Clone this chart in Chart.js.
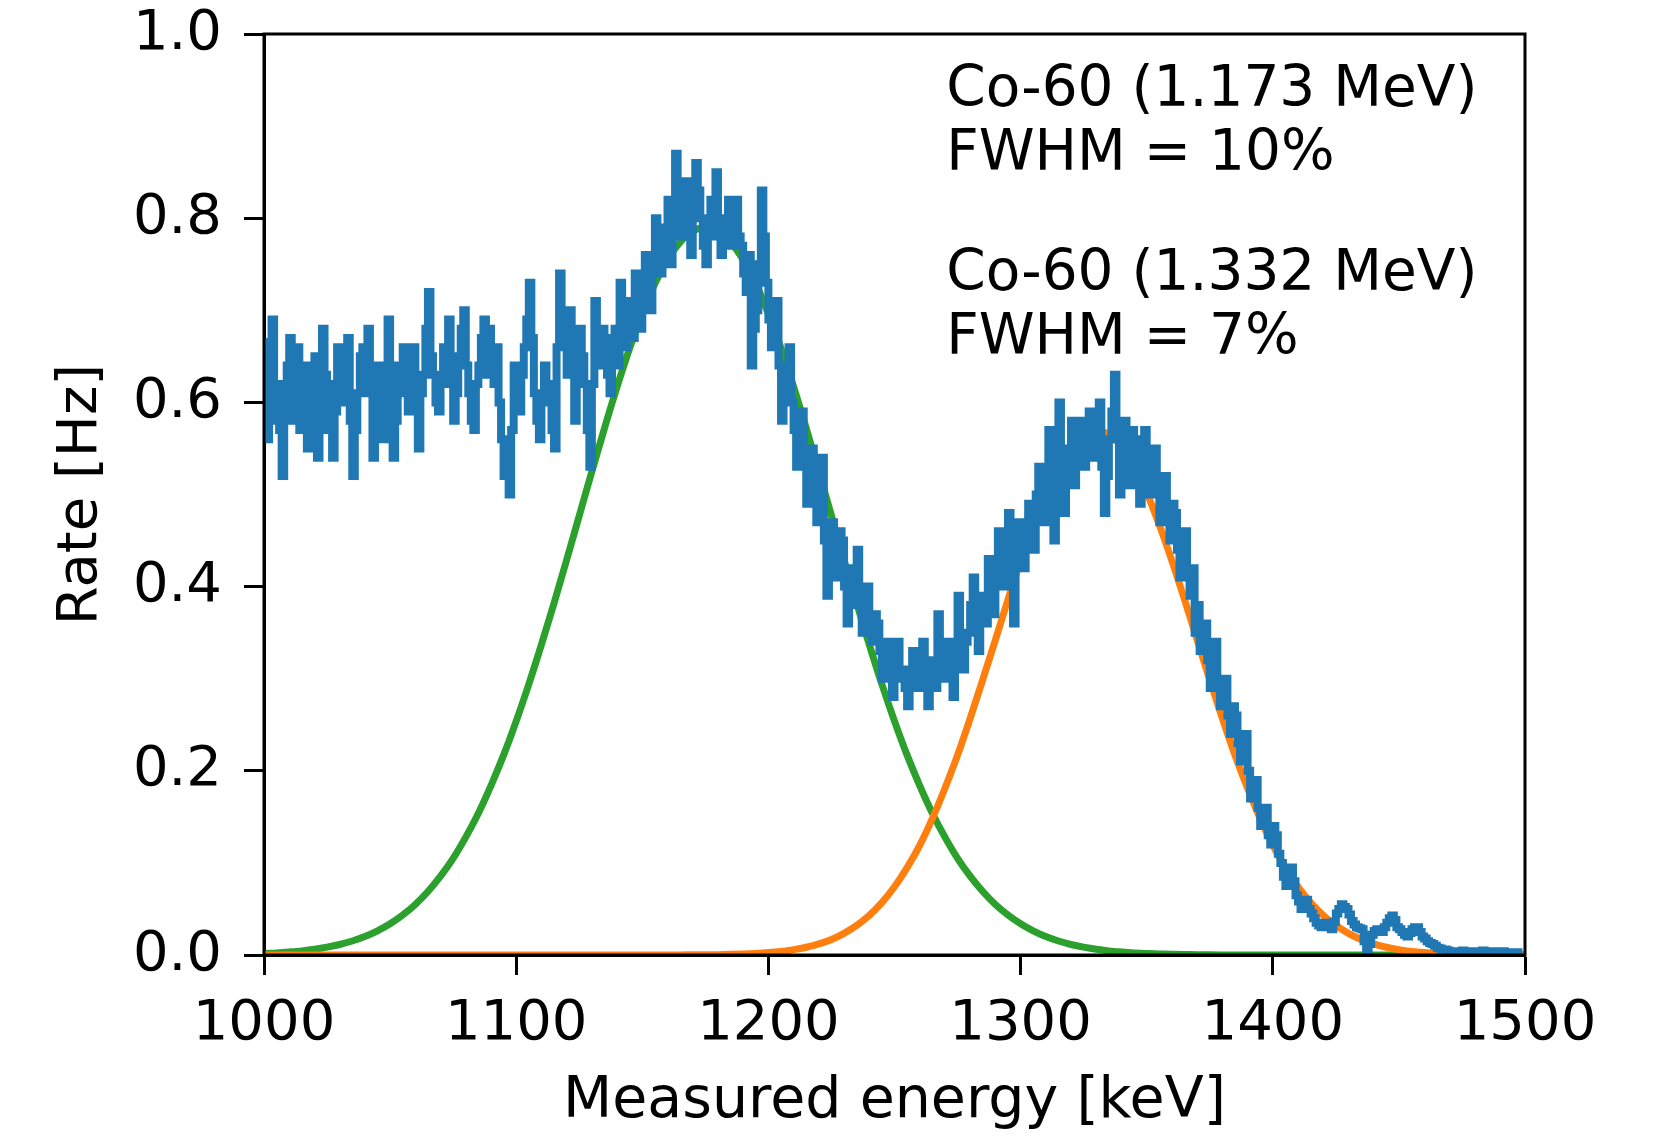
<!DOCTYPE html>
<html>
<head>
<meta charset="utf-8">
<title>Co-60 spectrum</title>
<script src="https://cdn.jsdelivr.net/npm/chart.js@4.4.1/dist/chart.umd.min.js"></script>
<style>
  html, body { margin: 0; padding: 0; background: #fff; }
  #wrap { width: 1654px; height: 1138px; }
</style>
</head>
<body>
<div id="wrap"><canvas id="spectrum" width="1654" height="1138"></canvas></div>
<script>
"use strict";

// measured spectrum, 1 keV bins starting at 1000 keV (rate in Hz), one row per 10 keV
const binStart = 1000;
const binWidth = 1;
const measuredRate = [
  0.67, 0.61, 0.56, 0.64, 0.69, 0.58, 0.62, 0.57, 0.52, 0.60,
  0.64, 0.67, 0.58, 0.63, 0.66, 0.57, 0.60, 0.64, 0.55, 0.59,
  0.61, 0.65, 0.54, 0.60, 0.68, 0.63, 0.57, 0.62, 0.54, 0.59,
  0.66, 0.62, 0.60, 0.64, 0.67, 0.58, 0.52, 0.57, 0.61, 0.65,
  0.66, 0.61, 0.68, 0.63, 0.54, 0.60, 0.64, 0.59, 0.56, 0.63,
  0.69, 0.62, 0.54, 0.58, 0.64, 0.61, 0.66, 0.63, 0.59, 0.62,
  0.66, 0.60, 0.55, 0.61, 0.63, 0.68, 0.72, 0.65, 0.63, 0.60,
  0.59, 0.63, 0.66, 0.62, 0.69, 0.64, 0.58, 0.61, 0.65, 0.68,
  0.70, 0.64, 0.61, 0.58, 0.57, 0.62, 0.64, 0.67, 0.69, 0.63,
  0.68, 0.64, 0.62, 0.66, 0.60, 0.56, 0.52, 0.55, 0.50, 0.57,
  0.64, 0.60, 0.59, 0.63, 0.66, 0.69, 0.73, 0.67, 0.61, 0.58,
  0.56, 0.61, 0.64, 0.62, 0.60, 0.57, 0.55, 0.66, 0.74, 0.69,
  0.66, 0.63, 0.70, 0.65, 0.58, 0.62, 0.68, 0.65, 0.62, 0.57,
  0.53, 0.62, 0.71, 0.66, 0.64, 0.68, 0.67, 0.63, 0.61, 0.65,
  0.68, 0.64, 0.73, 0.69, 0.66, 0.71, 0.70, 0.67, 0.74, 0.71,
  0.68, 0.72, 0.76, 0.73, 0.70, 0.75, 0.80, 0.77, 0.74, 0.78,
  0.79, 0.82, 0.75, 0.80, 0.87, 0.83, 0.78, 0.81, 0.84, 0.80,
  0.76, 0.81, 0.86, 0.83, 0.80, 0.77, 0.75, 0.79, 0.82, 0.78,
  0.85, 0.80, 0.76, 0.78, 0.80, 0.82, 0.77, 0.79, 0.82, 0.78,
  0.77, 0.74, 0.72, 0.76, 0.64, 0.68, 0.70, 0.75, 0.83, 0.78,
  0.73, 0.69, 0.66, 0.70, 0.71, 0.64, 0.58, 0.61, 0.63, 0.66,
  0.60, 0.57, 0.53, 0.56, 0.59, 0.54, 0.49, 0.52, 0.55, 0.50,
  0.47, 0.51, 0.54, 0.45, 0.39, 0.44, 0.47, 0.41, 0.43, 0.46,
  0.45, 0.40, 0.36, 0.39, 0.42, 0.38, 0.44, 0.40, 0.35, 0.38,
  0.40, 0.37, 0.34, 0.37, 0.36, 0.33, 0.30, 0.32, 0.34, 0.31,
  0.28, 0.31, 0.34, 0.30, 0.31, 0.29, 0.27, 0.30, 0.33, 0.30,
  0.29, 0.32, 0.34, 0.30, 0.27, 0.30, 0.32, 0.29, 0.37, 0.33,
  0.30, 0.33, 0.34, 0.31, 0.28, 0.32, 0.39, 0.35, 0.31, 0.34,
  0.35, 0.38, 0.41, 0.36, 0.33, 0.37, 0.39, 0.36, 0.43, 0.40,
  0.37, 0.41, 0.46, 0.43, 0.40, 0.44, 0.48, 0.42, 0.36, 0.43,
  0.47, 0.44, 0.42, 0.46, 0.49, 0.47, 0.44, 0.50, 0.53, 0.50,
  0.47, 0.52, 0.57, 0.51, 0.45, 0.54, 0.60, 0.55, 0.48, 0.53,
  0.55, 0.58, 0.51, 0.55, 0.58, 0.56, 0.53, 0.57, 0.59, 0.55,
  0.54, 0.57, 0.60, 0.53, 0.48, 0.52, 0.56, 0.59, 0.63, 0.57,
  0.50, 0.54, 0.58, 0.55, 0.51, 0.57, 0.56, 0.52, 0.49, 0.55,
  0.57, 0.53, 0.50, 0.54, 0.55, 0.51, 0.47, 0.50, 0.52, 0.48,
  0.45, 0.49, 0.48, 0.44, 0.41, 0.44, 0.46, 0.42, 0.39, 0.42,
  0.35, 0.38, 0.33, 0.35, 0.36, 0.32, 0.29, 0.31, 0.34, 0.30,
  0.27, 0.29, 0.30, 0.26, 0.24, 0.27, 0.26, 0.23, 0.21, 0.23,
  0.24, 0.20, 0.17, 0.18, 0.19, 0.16, 0.14, 0.15, 0.16, 0.13,
  0.12, 0.14, 0.13, 0.11, 0.10, 0.085, 0.075, 0.09, 0.095, 0.08,
  0.065, 0.058, 0.05, 0.055, 0.06, 0.05, 0.045, 0.04, 0.035, 0.032,
  0.03, 0.033, 0.035, 0.03, 0.028, 0.036, 0.045, 0.05, 0.055, 0.052,
  0.05, 0.044, 0.037, 0.033, 0.03, 0.029, 0.028, 0.015, 0.004, 0.012,
  0.022, 0.026, 0.028, 0.025, 0.025, 0.03, 0.035, 0.04, 0.043, 0.038,
  0.03, 0.028, 0.025, 0.022, 0.02, 0.024, 0.028, 0.03, 0.03, 0.025,
  0.02, 0.018, 0.015, 0.013, 0.012, 0.01, 0.008, 0.007, 0.006, 0.006,
  0.005, 0.004, 0.004, 0.003, 0.003, 0.004, 0.005, 0.004, 0.003, 0.003,
  0.004, 0.003, 0.003, 0.004, 0.005, 0.003, 0.002, 0.003, 0.004, 0.003,
  0.003, 0.004, 0.004, 0.003, 0.002, 0.003, 0.003, 0.002, 0.003, 0.003
];

// fitted peaks, sampled every 5 keV from 1000 keV
const fitStart = 1000;
const fitStep = 5;
const fit1173 = [
  0.0016, 0.0023, 0.0033, 0.0045, 0.0062, 0.0085, 0.0114, 0.0152, 0.0200, 0.0262,
  0.0339, 0.0434, 0.0549, 0.0689, 0.0856, 0.105, 0.128, 0.154, 0.184, 0.217,
  0.254, 0.294, 0.337, 0.382, 0.429, 0.477, 0.525, 0.572, 0.617, 0.659,
  0.696, 0.729, 0.755, 0.774, 0.786, 0.790, 0.786, 0.774, 0.755, 0.729,
  0.696, 0.659, 0.617, 0.572, 0.525, 0.477, 0.429, 0.382, 0.337, 0.294,
  0.254, 0.217, 0.184, 0.154, 0.128, 0.105, 0.0856, 0.0689, 0.0549, 0.0434,
  0.0339, 0.0262, 0.0200, 0.0152, 0.0114, 0.0085, 0.0062, 0.0045, 0.0033, 0.0023,
  0.0016, 0.0012, 0.0008, 0.0005, 0.0004, 0.0002, 0.0001, 0.0001, 0.0001, 0.0001,
  0, 0, 0, 0, 0, 0, 0, 0, 0, 0,
  0, 0, 0, 0, 0, 0, 0, 0, 0, 0,
  0
];
const fit1332 = [
  0, 0, 0, 0, 0, 0, 0, 0, 0, 0,
  0, 0, 0, 0, 0, 0, 0, 0, 0, 0,
  0, 0, 0, 0, 0, 0, 0, 0, 0, 0,
  0, 0, 0, 0.0001, 0.0002, 0.0003, 0.0004, 0.0007, 0.0011, 0.0017,
  0.0026, 0.0039, 0.0058, 0.0084, 0.0120, 0.0169, 0.0235, 0.0321, 0.0431, 0.0569,
  0.0741, 0.0948, 0.119, 0.148, 0.181, 0.217, 0.257, 0.299, 0.342, 0.386,
  0.428, 0.467, 0.502, 0.531, 0.552, 0.565, 0.570, 0.565, 0.552, 0.531,
  0.502, 0.467, 0.428, 0.386, 0.342, 0.299, 0.257, 0.217, 0.181, 0.148,
  0.119, 0.0948, 0.0741, 0.0569, 0.0431, 0.0321, 0.0235, 0.0169, 0.0120, 0.0084,
  0.0058, 0.0039, 0.0026, 0.0017, 0.0011, 0.0007, 0.0004, 0.0003, 0.0002, 0.0001,
  0.0001
];

// axes
const energyMin = 1000;
const energyMax = 1500;
const energyStep = 100;
const rateMin = 0;
const rateMax = 1;
const rateStep = 0.2;

// text in the upper right
const peakLabels = ['Co-60 (1.173 MeV)', 'FWHM = 10%', 'Co-60 (1.332 MeV)', 'FWHM = 7%'];
const labelEnergy = 1270.5;
const labelRates = [0.9215, 0.852, 0.7225, 0.653];

const FONT = '"DejaVu Sans", sans-serif';

function toPoints(start, step, values) {
    return values.map((v, i) => ({ x: start + i * step, y: v }));
}

// box round the plot area
const framePlugin = {
    id: 'frame',
    afterDatasetsDraw(chart) {
        const { ctx, chartArea: a } = chart;
        ctx.save();
        ctx.strokeStyle = '#000';
        ctx.lineWidth = 3;
        ctx.strokeRect(a.left, a.top, a.right - a.left, a.bottom - a.top);
        ctx.restore();
    }
};

// peak description text
const peakLabelPlugin = {
    id: 'peakLabels',
    afterDraw(chart) {
        const ctx = chart.ctx;
        const xs = chart.scales.x;
        const ys = chart.scales.y;
        ctx.save();
        ctx.fillStyle = '#000';
        ctx.font = '56.5px ' + FONT;
        ctx.textAlign = 'left';
        ctx.textBaseline = 'alphabetic';
        peakLabels.forEach((txt, i) => {
            ctx.fillText(txt, xs.getPixelForValue(labelEnergy), ys.getPixelForValue(labelRates[i]));
        });
        ctx.restore();
    }
};

const axisGrid = {
    display: true,
    drawOnChartArea: false,
    drawTicks: true,
    tickLength: 20,
    tickWidth: 3,
    tickColor: '#000'
};

const ctx = document.getElementById('spectrum').getContext('2d');
const spectrumChart = new Chart(ctx, {
    type: 'line',
    data: {
        datasets: [
            {
                label: 'Measured',
                data: toPoints(binStart, binWidth, measuredRate),
                borderColor: '#1f77b4',
                borderWidth: 8,
                stepped: 'after',
                pointRadius: 0,
                fill: false,
                clip: 0,
                order: 0
            },
            {
                label: 'Fit 1.173 MeV',
                data: toPoints(fitStart, fitStep, fit1173),
                borderColor: '#2ca02c',
                borderWidth: 7,
                cubicInterpolationMode: 'monotone',
                pointRadius: 0,
                fill: false,
                clip: 0,
                order: 2
            },
            {
                label: 'Fit 1.332 MeV',
                data: toPoints(fitStart, fitStep, fit1332),
                borderColor: '#ff7f0e',
                borderWidth: 7,
                cubicInterpolationMode: 'monotone',
                pointRadius: 0,
                fill: false,
                clip: 0,
                order: 1
            }
        ]
    },
    options: {
        responsive: false,
        animation: false,
        events: [],
        layout: {
            padding: { top: 34, right: 129, left: 0, bottom: 0 }
        },
        plugins: {
            legend: { display: false },
            tooltip: { enabled: false }
        },
        scales: {
            x: {
                type: 'linear',
                min: energyMin,
                max: energyMax,
                afterFit: (scale) => {
                    scale.height = 183;
                    scale.paddingLeft = 0;
                    scale.paddingRight = 0;
                },
                grid: axisGrid,
                border: { display: true, color: '#000', width: 3 },
                ticks: {
                    stepSize: energyStep,
                    color: '#000',
                    padding: 16,
                    maxRotation: 0,
                    font: { family: FONT, size: 56 },
                    callback: (v) => String(v)
                },
                title: {
                    display: true,
                    text: 'Measured energy [keV]',
                    color: '#000',
                    font: { family: FONT, size: 57 },
                    padding: { top: 0, bottom: 2 }
                }
            },
            y: {
                type: 'linear',
                min: rateMin,
                max: rateMax,
                afterFit: (scale) => {
                    scale.width = 264;
                    scale.paddingTop = 0;
                    scale.paddingBottom = 0;
                },
                grid: axisGrid,
                border: { display: true, color: '#000', width: 3 },
                ticks: {
                    stepSize: rateStep,
                    color: '#000',
                    padding: 22,
                    font: { family: FONT, size: 56 },
                    callback: (v) => v.toFixed(1)
                },
                title: {
                    display: true,
                    text: 'Rate [Hz]',
                    color: '#000',
                    font: { family: FONT, size: 56 },
                    padding: { top: 48, bottom: 0 }
                }
            }
        }
    },
    plugins: [framePlugin, peakLabelPlugin]
});
</script>
</body>
</html>
